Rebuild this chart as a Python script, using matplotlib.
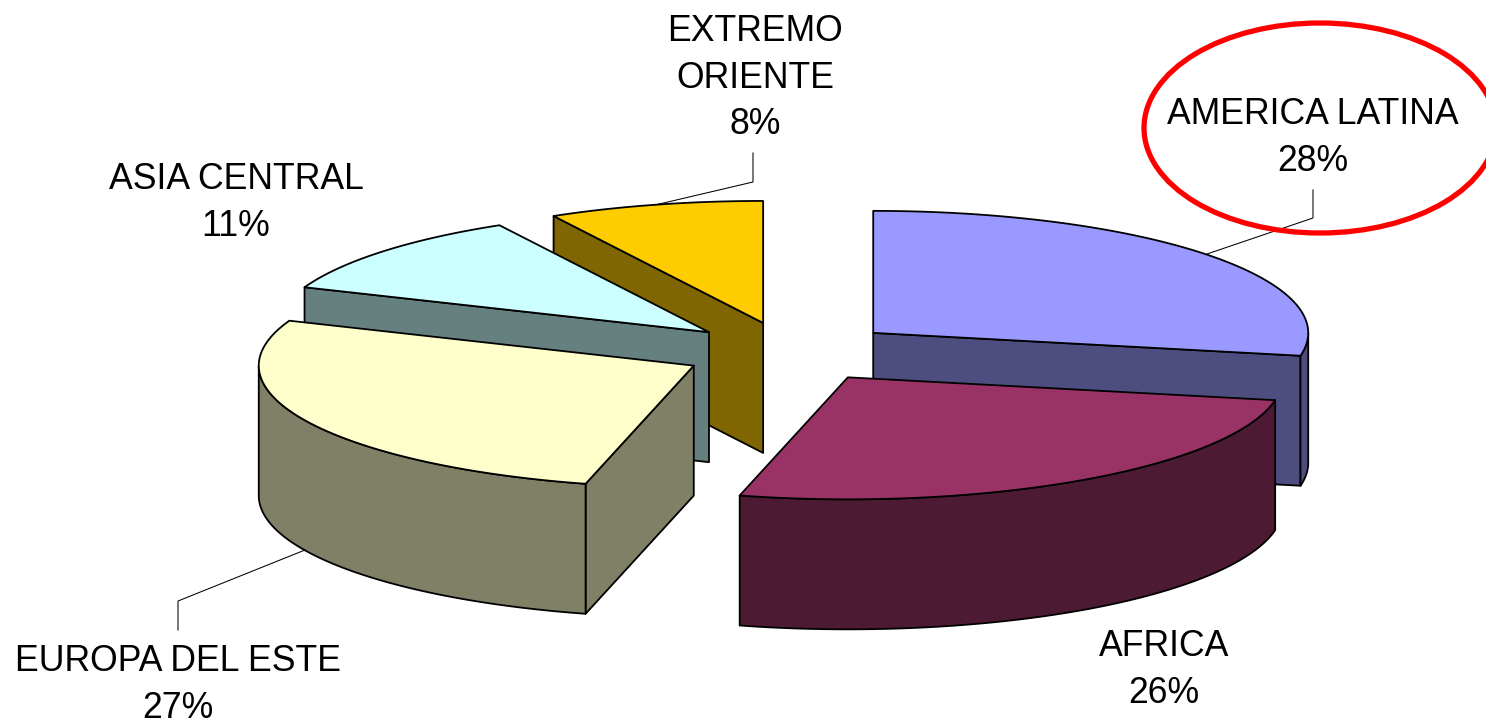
import numpy as np
import matplotlib.pyplot as plt
from matplotlib.patches import Polygon, Ellipse

plt.rcParams['font.family'] = ['Liberation Sans', 'DejaVu Sans']

labels = ['AMERICA LATINA', 'AFRICA', 'EUROPA DEL ESTE', 'ASIA CENTRAL', 'EXTREMO\nORIENTE']
shares = [28, 26, 27, 11, 8]
top_colors = ['#9999FF', '#993366', '#FFFFCC', '#CCFFFF', '#FFCC00']
side_colors = ['#4D4D80', '#4D1A33', '#808066', '#668080', '#806600']

# pie geometry, in pixels
cx, cy = 790, 352
rx, ry = 435, 122
depth = 130
explode_x, explode_y = 108, 30

label_pos = [(1313, 138), (1164, 670), (178, 685), (236, 203), (755, 78)]
leaders = [
    ([1207, 1313, 1313], [254, 218, 190]),
    ([655, 753, 753], [205, 182, 153]),
    ([305, 178, 178], [550, 601, 630]),
]

fig = plt.figure(figsize=(14.86, 7.24), dpi=100)
ax = fig.add_axes([0, 0, 1, 1])
ax.set_xlim(0, 1486)
ax.set_ylim(724, 0)
ax.axis('off')


def rim(x0, y0, a):
    # a is in degrees, clockwise from 12 o'clock
    a = np.radians(a)
    return x0 + rx * np.sin(a), y0 - ry * np.cos(a)


def face(pts, color, z):
    ax.add_patch(Polygon(pts, closed=True, facecolor=color, edgecolor='black',
                         linewidth=1.3, joinstyle='round', zorder=z))


ends = np.cumsum(shares) * 3.6
starts = ends - np.array(shares) * 3.6
mids = (starts + ends) / 2
order = np.argsort(-np.cos(np.radians(mids)))

for z, i in enumerate(order):
    a0, a1 = starts[i], ends[i]
    m = np.radians(mids[i])
    x0 = cx + explode_x * np.sin(m)
    y0 = cy - explode_y * np.cos(m)
    base = z * 10

    # radial faces that look towards the viewer
    for a, seen in ((a0, np.sin(np.radians(a0)) < -1e-6), (a1, np.sin(np.radians(a1)) > 1e-6)):
        if seen:
            xr, yr = rim(x0, y0, a)
            face([(x0, y0), (xr, yr), (xr, yr + depth), (x0, y0 + depth)], side_colors[i], base + 1)

    # outer wall, front half only
    lo, hi = max(a0, 90), min(a1, 270)
    if hi > lo:
        t = np.linspace(lo, hi, 80)
        xs, ys = rim(x0, y0, t)
        pts = list(zip(xs, ys)) + list(zip(xs[::-1], ys[::-1] + depth))
        face(pts, side_colors[i], base + 2)

    # top
    t = np.linspace(a0, a1, 160)
    xs, ys = rim(x0, y0, t)
    face([(x0, y0)] + list(zip(xs, ys)), top_colors[i], base + 3)

for i, name in enumerate(labels):
    x, y = label_pos[i]
    ax.text(x, y, '%s\n%d%%' % (name, shares[i]), ha='center', va='center',
            fontsize=25.7, linespacing=1.42, color='black', zorder=100)

for xs, ys in leaders:
    ax.plot(xs, ys, color='black', lw=0.75, zorder=90)

ax.add_patch(Ellipse((1320, 128), 352, 210, fill=False, edgecolor='#FF0000', linewidth=3.8, zorder=110))

fig.savefig('out.png', dpi=100)
